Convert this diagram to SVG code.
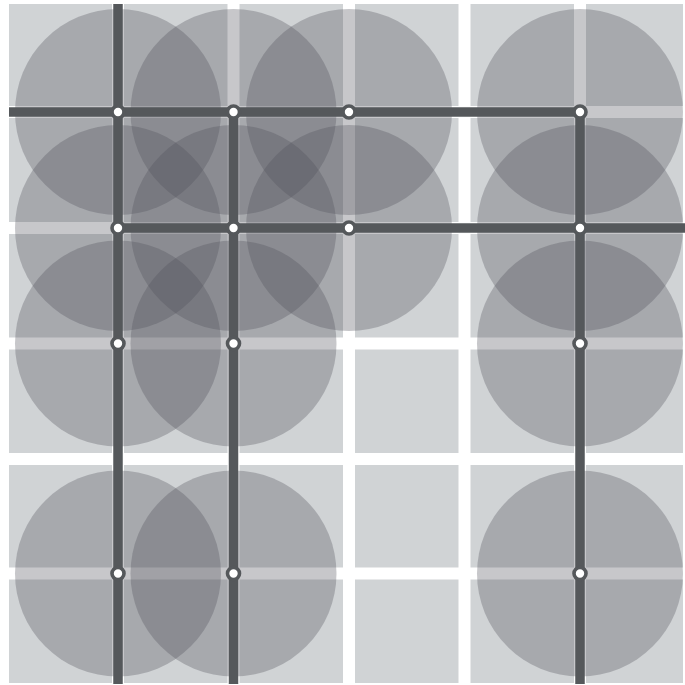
<svg xmlns="http://www.w3.org/2000/svg" width="685" height="685" viewBox="0 0 685 685">
<style>
.gap{fill:#ffffff}
.halo{fill:#50525a;fill-opacity:0.32}
.link{stroke:#55585b;stroke-width:9.5;fill:none}
.node{fill:#ffffff;stroke:#55585b;stroke-width:3.6}
</style>
<rect x="0" y="0" width="685" height="685" fill="#ffffff"/>
<g id="field">
<rect x="9" y="4" width="674" height="679" fill="#d0d3d5"/>
<rect class="gap" x="112" y="0" width="12" height="685"/>
<rect class="gap" x="227.5" y="0" width="12" height="685"/>
<rect class="gap" x="343" y="0" width="12" height="685"/>
<rect class="gap" x="458.5" y="0" width="12" height="685"/>
<rect class="gap" x="574" y="0" width="12" height="685"/>
<rect class="gap" x="0" y="106" width="685" height="12"/>
<rect class="gap" x="0" y="222" width="685" height="12"/>
<rect class="gap" x="0" y="337.5" width="685" height="12"/>
<rect class="gap" x="0" y="453" width="685" height="12"/>
<rect class="gap" x="0" y="567.5" width="685" height="12"/>
</g>
<g id="coverage">
<circle class="halo" cx="118" cy="112" r="103"/>
<circle class="halo" cx="233.5" cy="112" r="103"/>
<circle class="halo" cx="349" cy="112" r="103"/>
<circle class="halo" cx="580" cy="112" r="103"/>
<circle class="halo" cx="118" cy="228" r="103"/>
<circle class="halo" cx="233.5" cy="228" r="103"/>
<circle class="halo" cx="349" cy="228" r="103"/>
<circle class="halo" cx="580" cy="228" r="103"/>
<circle class="halo" cx="118" cy="343.5" r="103"/>
<circle class="halo" cx="233.5" cy="343.5" r="103"/>
<circle class="halo" cx="580" cy="343.5" r="103"/>
<circle class="halo" cx="118" cy="573.5" r="103"/>
<circle class="halo" cx="233.5" cy="573.5" r="103"/>
<circle class="halo" cx="580" cy="573.5" r="103"/>
</g>
<g id="connectors">
<path class="link" d="M9 112H580"/>
<path class="link" d="M118 228H685"/>
<path class="link" d="M118 4V684"/>
<path class="link" d="M233.5 112V684"/>
<path class="link" d="M580 112V684"/>
</g>
<g id="n-1-1"><circle class="node" cx="118" cy="112" r="6"/></g>
<g id="n-1-2"><circle class="node" cx="233.5" cy="112" r="6"/></g>
<g id="n-1-3"><circle class="node" cx="349" cy="112" r="6"/></g>
<g id="n-1-5"><circle class="node" cx="580" cy="112" r="6"/></g>
<g id="n-2-1"><circle class="node" cx="118" cy="228" r="6"/></g>
<g id="n-2-2"><circle class="node" cx="233.5" cy="228" r="6"/></g>
<g id="n-2-3"><circle class="node" cx="349" cy="228" r="6"/></g>
<g id="n-2-5"><circle class="node" cx="580" cy="228" r="6"/></g>
<g id="n-3-1"><circle class="node" cx="118" cy="343.5" r="6"/></g>
<g id="n-3-2"><circle class="node" cx="233.5" cy="343.5" r="6"/></g>
<g id="n-3-5"><circle class="node" cx="580" cy="343.5" r="6"/></g>
<g id="n-5-1"><circle class="node" cx="118" cy="573.5" r="6"/></g>
<g id="n-5-2"><circle class="node" cx="233.5" cy="573.5" r="6"/></g>
<g id="n-5-5"><circle class="node" cx="580" cy="573.5" r="6"/></g>
</svg>
